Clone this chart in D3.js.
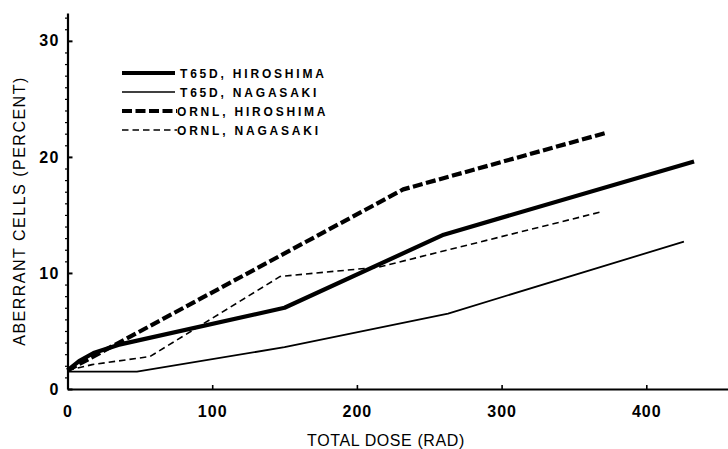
<!DOCTYPE html>
<html>
<head>
<meta charset="utf-8">
<script src="https://cdn.jsdelivr.net/npm/d3@7"></script>
<style>
  html, body { margin: 0; padding: 0; background: #fff; }
  svg { display: block; }
  text { font-family: "Liberation Sans", Arial, sans-serif; fill: #000; }
</style>
</head>
<body>
<svg id="chart" width="728" height="449"></svg>
<script>
// Dose (rad) vs. percentage of aberrant cells, four dosimetry/city series
const t65dHiroshima = [[0, 1.6], [8, 2.4], [18, 3.1], [35, 3.8], [150, 7.0], [260, 13.3], [433, 19.6]];
const t65dNagasaki  = [[0, 1.5], [48, 1.5], [150, 3.6], [263, 6.5], [426, 12.7]];
const ornlHiroshima = [[0, 1.6], [232, 17.2], [373, 22.1]];
const ornlNagasaki  = [[0, 1.6], [17, 2.1], [57, 2.8], [147, 9.7], [215, 10.5], [370, 15.3]];

const seriesNames = ["T65D, HIROSHIMA", "T65D, NAGASAKI", "ORNL, HIROSHIMA", "ORNL, NAGASAKI"];
const xTicks = [0, 100, 200, 300, 400];
const yTicks = [0, 10, 20, 30];

const series = [
  { name: seriesNames[0], data: t65dHiroshima, width: 4.2, dash: null },
  { name: seriesNames[1], data: t65dNagasaki,  width: 1.8, dash: null },
  { name: seriesNames[2], data: ornlHiroshima, width: 4.2, dash: "10,3.5" },
  { name: seriesNames[3], data: ornlNagasaki,  width: 1.6, dash: "6.5,4" }
];

const svg = d3.select("#chart");

const x = d3.scaleLinear().domain([0, 458]).range([67.5, 67.5 + 458 * 1.447]);
const y = d3.scaleLinear().domain([0, 32.4]).range([389, 13]);

// minor ticks on the dose-response axis
svg.append("g")
  .attr("transform", `translate(${x(0)},0)`)
  .call(d3.axisLeft(y).tickValues(d3.range(1, 33).filter(v => v % 10 !== 0)).tickSize(2.5).tickFormat(""))
  .call(g => g.select(".domain").remove())
  .call(g => g.selectAll("line").attr("stroke-width", 1.2));

// y axis
svg.append("g")
  .attr("transform", `translate(${x(0)},0)`)
  .call(d3.axisLeft(y).tickValues(yTicks).tickSizeInner(-5).tickSizeOuter(0).tickPadding(8))
  .call(g => g.select(".domain").attr("stroke-width", 2.2))
  .call(g => g.selectAll("line").attr("stroke-width", 2))
  .call(g => g.selectAll("text")
    .attr("font-size", 16).attr("font-weight", "bold")
    .attr("letter-spacing", 1.2)
    .attr("font-family", "'Liberation Sans', Arial, sans-serif"));

// x axis
svg.append("g")
  .attr("transform", `translate(0,${y(0)})`)
  .call(d3.axisBottom(x).tickValues(xTicks).tickSizeInner(-4).tickSizeOuter(0).tickPadding(17))
  .call(g => g.select(".domain").attr("stroke-width", 2.2))
  .call(g => g.selectAll("line").attr("stroke-width", 1.6))
  .call(g => g.selectAll("text")
    .attr("font-size", 16).attr("font-weight", "bold")
    .attr("letter-spacing", 1)
    .attr("font-family", "'Liberation Sans', Arial, sans-serif"));

// axis titles
svg.append("text")
  .attr("x", 386).attr("y", 446)
  .attr("text-anchor", "middle")
  .attr("font-size", 16).attr("letter-spacing", 0.6)
  .text("TOTAL DOSE (RAD)");

svg.append("text")
  .attr("transform", "translate(25,211) rotate(-90)")
  .attr("text-anchor", "middle")
  .attr("font-size", 16).attr("letter-spacing", 1.5)
  .text("ABERRANT CELLS (PERCENT)");

// series lines
const line = d3.line().x(d => x(d[0])).y(d => y(d[1]));
svg.append("g").selectAll("path")
  .data(series)
  .join("path")
  .attr("d", d => line(d.data))
  .attr("fill", "none")
  .attr("stroke", "#000")
  .attr("stroke-width", d => d.width)
  .attr("stroke-dasharray", d => d.dash)
  .attr("stroke-linejoin", "round");

// legend
const legend = svg.append("g").attr("transform", "translate(122,73)");
const rows = legend.selectAll("g")
  .data(series)
  .join("g")
  .attr("transform", (d, i) => `translate(0,${i * 19})`);
rows.append("line")
  .attr("x1", 0).attr("x2", d => d.dash ? 55 : 53)
  .attr("stroke", "#000")
  .attr("stroke-width", d => d.width * 0.9)
  .attr("stroke-dasharray", d => d.dash);
rows.append("text")
  .attr("x", (d, i) => i < 2 ? 58 : 55)
  .attr("y", 4.5)
  .attr("font-size", 12).attr("font-weight", "bold")
  .attr("letter-spacing", 2.8)
  .text(d => d.name);
</script>
</body>
</html>
